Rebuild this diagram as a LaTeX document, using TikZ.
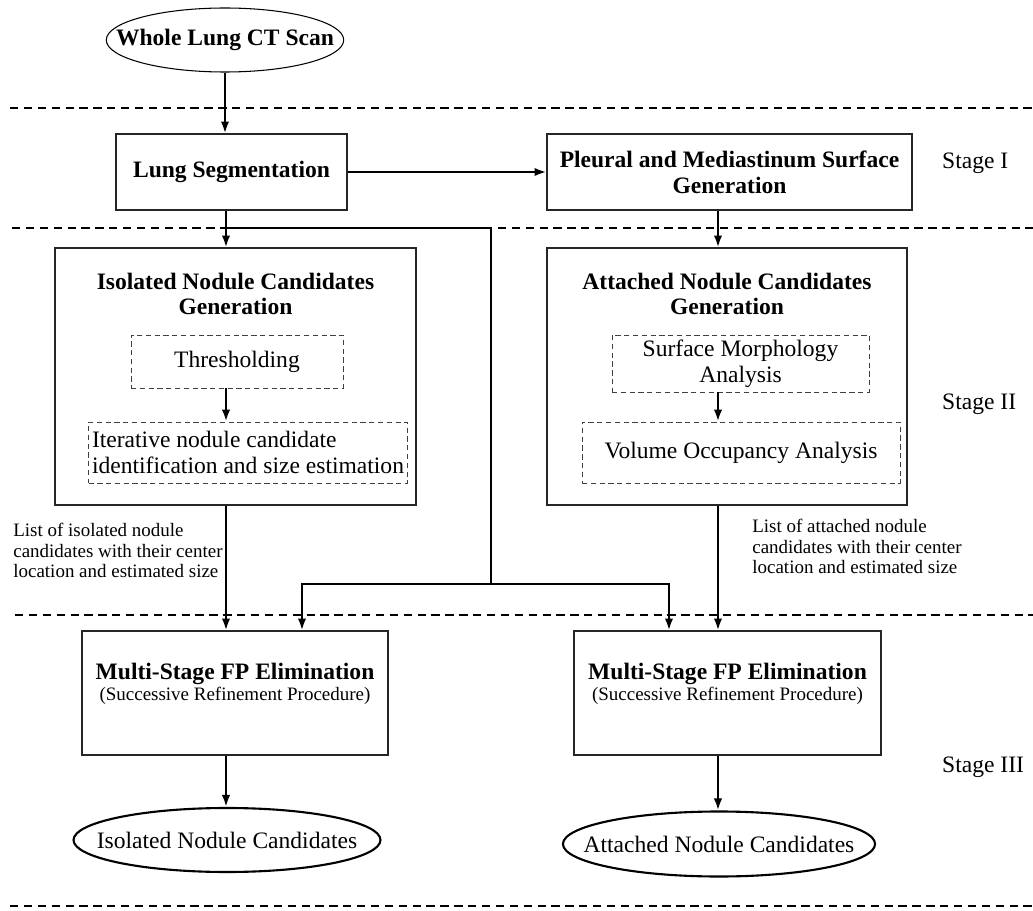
\documentclass[tikz,border=0pt]{standalone}
\usepackage{fontspec}
\setmainfont{Liberation Serif}
\usetikzlibrary{arrows.meta, positioning, shapes.geometric, calc}
\newcommand{\figmain}{\fontsize{13.4}{14.6}\selectfont}
\newcommand{\fignote}{\fontsize{10.8}{11.7}\selectfont}

\begin{document}
\begin{tikzpicture}[
    box/.style={draw=black!85, line width=0.6pt, inner sep=2pt},
    subbox/.style={draw=black!75, dash pattern=on 3pt off 2pt, line width=0.5pt, inner sep=2pt},
    oval/.style={draw, ellipse, inner xsep=-0.5cm, inner ysep=0pt},
    arr/.style={-{Latex[length=6.8pt, width=4.8pt]}, line width=1.4pt},
    link/.style={line width=1.4pt},
    stageline/.style={dash pattern=on 4.7pt off 3.2pt, line width=1.5pt},
    note/.style={font=\fignote, align=left, inner sep=0pt},
    stagelbl/.style={font=\figmain, anchor=west}
]
    \useasboundingbox (0,0) rectangle (20.66,-18.22);

    % stage separators
    \draw[stageline] (0.20,-2.16) -- (20.66,-2.16);
    \draw[stageline] (0.24,-4.56) -- (20.66,-4.56);
    \draw[stageline] (0.30,-12.30) -- (20.66,-12.30);
    \draw[stageline] (0.20,-18.12) -- (20.66,-18.12);

    \node[stagelbl] (stage1) at (18.72,-3.26) {Stage I};
    \node[stagelbl] (stage2) at (18.72,-8.08) {Stage II};
    \node[stagelbl] (stage3) at (18.72,-15.34) {Stage III};

    \coordinate (colL) at (4.52,0);
    \coordinate (colR) at (14.36,0);

    % Stage I
    \node[oval, line width=0.6pt, font=\figmain\bfseries, minimum width=4.72cm, minimum height=1.28cm] (ctscan) at (4.50,-0.80) {Whole Lung CT Scan};
    \node[box, font=\figmain\bfseries, minimum width=4.62cm, minimum height=1.52cm] (lungseg) at (4.63,-3.44) {Lung Segmentation};
    \node[box, font=\figmain\bfseries, align=center, minimum width=7.30cm, minimum height=1.52cm] (pleural) at (14.59,-3.44) {Pleural and Mediastinum Surface\\Generation};

    % Stage II
    \node[box, minimum width=7.22cm, minimum height=5.14cm] (iso) at (4.71,-7.53) {};
    \node[below=0.5cm of iso.north, inner sep=0pt, font=\figmain\bfseries, align=center] (isotitle) {Isolated Nodule Candidates\\Generation};
    \node[subbox, font=\figmain, minimum width=4.24cm, minimum height=1.06cm] (thresh) at (4.74,-7.23) {Thresholding};
    \node[subbox, font=\figmain, align=left, minimum width=6.36cm, minimum height=1.22cm] (iter) at (4.96,-9.05) {Iterative nodule candidate\\identification and size estimation};

    \node[box, minimum width=7.20cm, minimum height=5.14cm] (att) at (14.54,-7.53) {};
    \node[below=0.5cm of att.north, inner sep=0pt, font=\figmain\bfseries, align=center] (atttitle) {Attached Nodule Candidates\\Generation};
    \node[subbox, font=\figmain, align=center, minimum width=5.14cm, minimum height=1.14cm] (surf) at (14.81,-7.27) {Surface Morphology\\Analysis};
    \node[subbox, font=\figmain, minimum width=6.36cm, minimum height=1.22cm] (vol) at (14.82,-9.05) {Volume Occupancy Analysis};

    \node[note, anchor=north west] (isonote) at (0.26,-10.46) {List of isolated nodule\\candidates with their center\\location and estimated size};
    \node[note, anchor=north west] (attnote) at (15.04,-10.38) {List of attached nodule\\candidates with their center\\location and estimated size};

    % Stage III
    \node[box, minimum width=6.12cm, minimum height=2.48cm] (multi1) at (4.70,-13.86) {};
    \node[below=0.64cm of multi1.north, inner sep=0pt, align=center] (multi1txt) {\figmain\bfseries Multi-Stage FP Elimination\\\fignote (Successive Refinement Procedure)};
    \node[box, minimum width=6.14cm, minimum height=2.48cm] (multi2) at (14.55,-13.86) {};
    \node[below=0.64cm of multi2.north, inner sep=0pt, align=center] (multi2txt) {\figmain\bfseries Multi-Stage FP Elimination\\\fignote (Successive Refinement Procedure)};

    \node[oval, line width=1.2pt, font=\figmain, minimum width=6.14cm, minimum height=1.28cm] (isocand) at (4.54,-16.80) {Isolated Nodule Candidates};
    \node[oval, line width=1.2pt, font=\figmain, minimum width=6.16cm, minimum height=1.30cm] (attcand) at (14.38,-16.88) {Attached Nodule Candidates};

    % connectors
    \draw[arr] (ctscan.south) -- (ctscan.south |- lungseg.north);
    \draw[arr] (lungseg) -- (pleural);
    \draw[arr] (colL |- lungseg.south) -- (colL |- iso.north);
    \draw[arr] (colR |- pleural.south) -- (colR |- att.north);
    \draw[arr] (colL |- thresh.south) -- (colL |- iter.north);
    \draw[arr] (colR |- surf.south) -- (colR |- vol.north);
    \draw[arr] (colL |- iso.south) -- (colL |- multi1.north);
    \draw[arr] (colR |- att.south) -- (colR |- multi2.north);

    \coordinate (split) at (4.52,-4.56);
    \coordinate (busTop) at (9.82,-4.56);
    \coordinate (busMid) at (9.82,-11.68);
    \coordinate (busLeft) at (6.04,-11.68);
    \coordinate (busRight) at (13.38,-11.68);
    \draw[link] (split) -- (busTop) -- (busMid);
    \draw[arr] (busMid) -- (busLeft) -- (busLeft |- multi1.north);
    \draw[arr] (busMid) -- (busRight) -- (busRight |- multi2.north);

    \draw[arr] (colL |- multi1.south) -- (colL |- isocand.north);
    \draw[arr] (colR |- multi2.south) -- (colR |- attcand.north);
\end{tikzpicture}
\end{document}
